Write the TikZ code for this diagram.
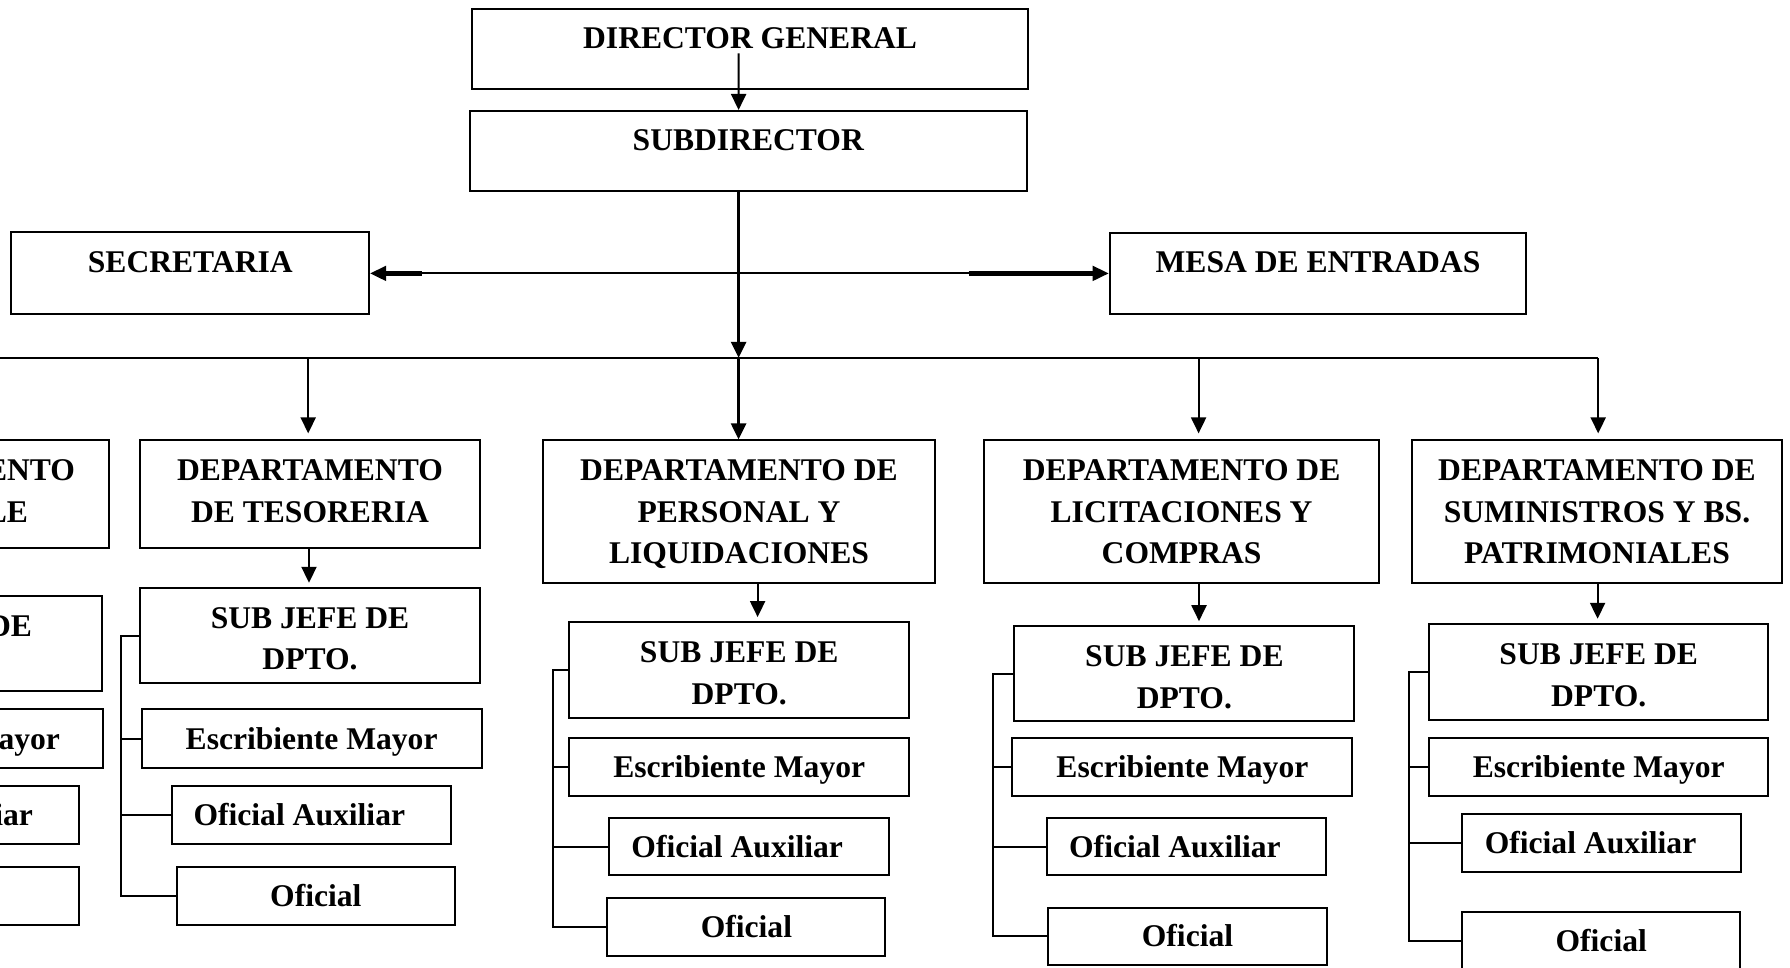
\documentclass[tikz,border=0pt]{standalone}
\usepackage{fontspec}
\setmainfont{Liberation Serif}
\usetikzlibrary{arrows.meta}
\newcommand{\alto}{\rule{0pt}{13.9pt}}
\tikzset{
    %Define standard arrow tip
    >={Triangle[width=7.5pt,length=8pt]},
    caja/.style={
      rectangle,
      draw=black, line width=1pt,
      inner sep=0pt,
      align=center,
      font=\bfseries\fontsize{15.8}{20.7}\selectfont},
    jefe/.style={caja, text depth=11pt},
    depto/.style={caja, text depth=0pt},
    subjefe/.style={caja},
    cargo/.style={caja, text height=10.5pt, text depth=0pt},
    corte/.style={caja, align=right},
}

\begin{document}
\begin{tikzpicture}[x=1pt,y=-1pt,line width=1pt]
    \useasboundingbox[fill=white] (0,0) rectangle (895,484);
    \clip (0,0) rectangle (895,484);
    \node (dg) [jefe, minimum width=277.7pt, minimum height=40.1pt] at (375.05,24.45)
          {DIRECTOR GENERAL};
    \node (sd) [jefe, minimum width=278.3pt, minimum height=40pt] at (374.15,75.5)
          {SUBDIRECTOR};
    \node (sec) [jefe, minimum width=178.9pt, minimum height=41pt] at (95.15,136.7)
          {SECRETARIA};
    \node (mesa) [jefe, minimum width=208.4pt, minimum height=40.8pt] at (659,136.7)
          {MESA DE ENTRADAS};

    \coordinate (b0) at (0,178.9);
    \coordinate (b1) at (154.1,178.9);
    \coordinate (b2) at (369.3,178.9);
    \coordinate (b3) at (599.3,178.9);
    \coordinate (b4) at (799.1,178.9);
    \coordinate (hl) at ([xshift=26pt]sec.east);
    \coordinate (hr) at ([xshift=-70pt]mesa.west);

    \draw[->] ([xshift=-5.75pt,yshift=-2.2pt]dg.center) -- ([xshift=-4.85pt]sd.north);
    \draw[<->] (sec.east) -- (mesa.west);
    \draw[line width=2.2pt, shorten <=4pt] (sec.east) -- (hl);
    \draw[line width=2.2pt, shorten >=4pt] (hr) -- (mesa.west);
    \draw[->, line width=1.4pt] (sd.south -| b2) -- (b2);
    \draw (b0) -- (b4);

    % departamentos
    \node (dleft) [corte, text depth=23.7pt, text width=135.6pt, minimum width=170pt, minimum height=53.8pt] at (-30.3,247.1)
          {ENTO\\LE\rule{23.5pt}{0pt}};
    \node (dtes) [depto, text depth=3pt, minimum width=170pt, minimum height=53.8pt] at (155,247.1)
          {DEPARTAMENTO\\DE TESORERIA};
    \node (dper) [depto, minimum width=196.3pt, minimum height=71.4pt] at (369.5,255.9)
          {DEPARTAMENTO DE\\PERSONAL Y\\LIQUIDACIONES};
    \node (dlic) [depto, minimum width=197.3pt, minimum height=71.4pt] at (590.8,255.9)
          {DEPARTAMENTO DE\\LICITACIONES Y\\COMPRAS};
    \node (dsum) [depto, minimum width=184.6pt, minimum height=71.4pt] at (798.5,255.9)
          {DEPARTAMENTO DE\\SUMINISTROS Y BS.\\PATRIMONIALES};

    \draw[->, shorten >=3pt] (b1) -- (b1 |- dtes.north);
    \draw[->, line width=1.4pt] (b2) -- (b2 |- dper.north);
    \draw[->, shorten >=3pt] (b3) -- (b3 |- dlic.north);
    \draw[->, shorten >=3pt] (b4) -- (b4 |- dsum.north);

    % sub jefes
    \node (sleft) [corte, text width=100pt, minimum width=170pt, minimum height=47.7pt] at (-34,321.75)
          {\alto DE\\\mbox{}};
    \node (stes) [subjefe, minimum width=170pt, minimum height=47.7pt] at (155,317.75)
          {\alto SUB JEFE DE\\DPTO.};
    \node (sper) [subjefe, minimum width=169.8pt, minimum height=47.9pt] at (369.6,335)
          {\alto SUB JEFE DE\\DPTO.};
    \node (slic) [subjefe, minimum width=170pt, minimum height=47.6pt] at (592.2,336.9)
          {\alto SUB JEFE DE\\DPTO.};
    \node (ssum) [subjefe, minimum width=169.7pt, minimum height=47.9pt] at (799.35,335.85)
          {\alto SUB JEFE DE\\DPTO.};

    \draw[->, shorten >=2pt] ([xshift=-0.5pt]dtes.south) -- ([xshift=-0.5pt]stes.north);
    \draw[->, shorten >=2pt] ([xshift=9.3pt]dper.south) -- ([xshift=9.2pt]sper.north);
    \draw[->, shorten >=2pt] ([xshift=8.7pt]dlic.south) -- ([xshift=7.3pt]slic.north);
    \draw[->, shorten >=2pt] ([xshift=0.3pt]dsum.south) -- ([xshift=-0.55pt]ssum.north);

    \coordinate (ktes) at (60.5,0);
    \coordinate (kper) at (276.3,0);
    \coordinate (klic) at (496.3,0);
    \coordinate (ksum) at (704.7,0);

    % personal de cada departamento
    \node (eleft) [corte, text height=10.5pt, text depth=0pt, text width=127pt, minimum width=170pt, minimum height=29.2pt] at (-33.5,369.3)
          {ayor};
    \node (etes) [cargo, minimum width=170pt, minimum height=29.2pt] at (155.8,369.3)
          {Escribiente Mayor}
          edge (etes.west -| ktes);
    \node (eper) [cargo, minimum width=169.8pt, minimum height=28.9pt] at (369.6,383.45)
          {Escribiente Mayor}
          edge (eper.west -| kper);
    \node (elic) [cargo, minimum width=170pt, minimum height=28.9pt] at (591.2,383.45)
          {Escribiente Mayor}
          edge (elic.west -| klic);
    \node (esum) [cargo, minimum width=169.7pt, minimum height=28.9pt] at (799.35,383.45)
          {Escribiente Mayor}
          edge (esum.west -| ksum);

    \node (aleft) [corte, text height=10.5pt, text depth=0pt, text width=93.7pt, minimum width=139.7pt, minimum height=28.8pt] at (-30.35,407.4)
          {iar};
    \node (ates) [cargo, minimum width=139.7pt, minimum height=28.8pt] at (155.65,407.4)
          {Oficial Auxiliar\rule{12pt}{0pt}}
          edge (ates.west -| ktes);
    \node (aper) [cargo, minimum width=140pt, minimum height=28.8pt] at (374.7,423.3)
          {Oficial Auxiliar\rule{12.2pt}{0pt}}
          edge (aper.west -| kper);
    \node (alic) [cargo, minimum width=139.7pt, minimum height=28.8pt] at (593.15,423.3)
          {Oficial Auxiliar\rule{11.4pt}{0pt}}
          edge (alic.west -| klic);
    \node (asum) [cargo, minimum width=139.3pt, minimum height=28.8pt] at (800.85,421.4)
          {Oficial Auxiliar\rule{11.2pt}{0pt}}
          edge (asum.west -| ksum);

    \node (oleft) [cargo, minimum width=139.2pt, minimum height=28.9pt] at (-30.1,448.1) {};
    \node (otes) [cargo, minimum width=139.2pt, minimum height=28.9pt] at (157.9,448.1)
          {Oficial};
    \node (oper) [cargo, minimum width=139pt, minimum height=28.7pt] at (373.2,463.4)
          {Oficial};
    \node (olic) [cargo, minimum width=139.1pt, minimum height=28.9pt] at (593.75,468.2)
          {Oficial};
    \node (osum) [cargo, minimum width=138.8pt, minimum height=29pt] at (800.6,470.5)
          {Oficial};

    \draw (stes.west) -| (ktes |- otes.west) -- (otes.west);
    \draw (sper.west) -| (kper |- oper.west) -- (oper.west);
    \draw (slic.west) -| (klic |- olic.west) -- (olic.west);
    \draw (ssum.west) -| (ksum |- osum.west) -- (osum.west);
\end{tikzpicture}
\end{document}
